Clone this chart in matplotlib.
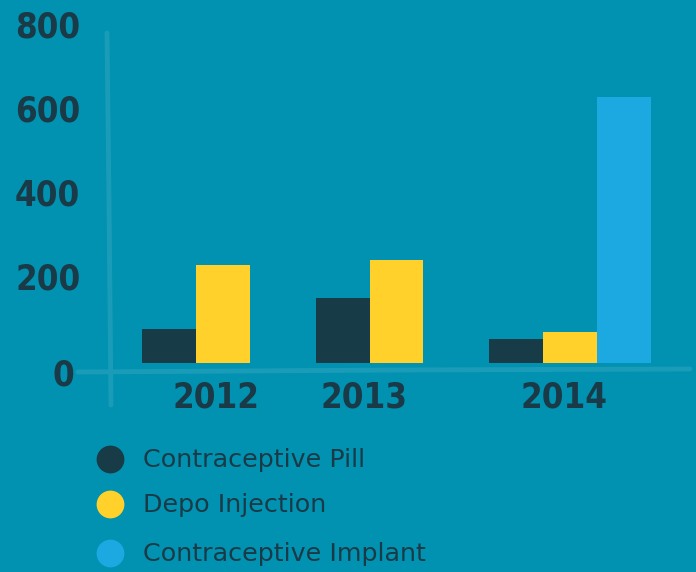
import matplotlib
matplotlib.use("Agg")
import matplotlib.pyplot as plt
from matplotlib.lines import Line2D

# data
years = ["2012", "2013", "2014"]
series = ["Contraceptive Pill", "Depo Injection", "Contraceptive Implant"]
pill = [81, 155, 57]
depo = [234, 246, 74]
implant = [0, 0, 635]
y_ticks = [0, 200, 400, 600, 800]

bg = "#0092B0"
colors = ["#183B48", "#FFD12A", "#1CA8E0"]
text_col = "#1B3A47"
axis_col = "#1A9CB8"

W, H = 696, 572
fig = plt.figure(figsize=(W / 100, H / 100), dpi=100, facecolor=bg)


def px(x, y):
    # pixel (from top-left) -> figure fraction
    return x / W, 1 - y / H


# axes spans the full width, y from 0 (px 363) to 800 (px 28)
ax = fig.add_axes([0, (H - 363) / H, 1, (363 - 28) / H])
ax.set_facecolor("none")
ax.set_xlim(-1.285, 2.726)
ax.set_ylim(0, 800)
ax.axis("off")

w = 0.311
for k, vals in enumerate([pill, depo, implant]):
    xs = [i + (k - 1) * w for i in range(len(years))]
    ax.bar(xs, vals, width=w, color=colors[k], linewidth=0, zorder=3)

# hand drawn axis lines
fig.add_artist(Line2D([px(78, 372)[0], px(400, 370)[0], px(690, 369)[0]],
                      [px(78, 372)[1], px(400, 370)[1], px(690, 369)[1]],
                      transform=fig.transFigure, color=axis_col, lw=3.5,
                      solid_capstyle="round", zorder=1))
fig.add_artist(Line2D([px(107, 33)[0], px(109, 200)[0], px(111, 405)[0]],
                      [px(107, 33)[1], px(109, 200)[1], px(111, 405)[1]],
                      transform=fig.transFigure, color=axis_col, lw=3.5,
                      solid_capstyle="round", zorder=1))

hand = dict(family="DejaVu Sans", stretch="condensed", fontsize=25,
            color=text_col, fontweight="bold")

# y tick labels
for v in y_ticks:
    dy = -12 if v == 0 else 0
    xpos = 52 / W if v == 0 else 15 / W
    ax.annotate(str(v), xy=(xpos, v), xycoords=("axes fraction", "data"),
                xytext=(0, dy), textcoords="offset pixels",
                ha="left", va="center", **hand)

# x tick labels (slightly off-centre like the sketch)
label_shift = [-0.04, -0.19, -0.035]
for i, yr in enumerate(years):
    ax.annotate(yr, xy=(i + label_shift[i], 0), xycoords="data",
                xytext=(0, -35), textcoords="offset pixels",
                ha="center", va="center", **hand)

# legend
leg_y = [459, 504, 553]
for k, name in enumerate(series):
    fx, fy = px(110, leg_y[k])
    fig.add_artist(Line2D([fx], [fy], transform=fig.transFigure, marker="o",
                          markersize=19, color=colors[k], linestyle="none"))
    tx, ty = px(143, leg_y[k] + 1)
    fig.text(tx, ty, name, ha="left", va="center", fontsize=18.3,
             color=text_col, family="DejaVu Sans")

fig.savefig("out.png", dpi=100, facecolor=bg)
